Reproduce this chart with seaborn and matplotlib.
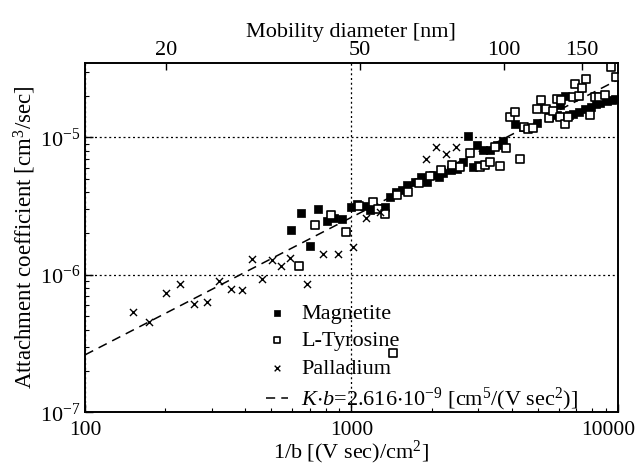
import numpy as np
import pandas as pd
import matplotlib
matplotlib.use("Agg")
import matplotlib.pyplot as plt
import matplotlib.transforms as mtransforms
import seaborn as sns
from matplotlib.ticker import (LogLocator, FixedLocator, FixedFormatter, NullLocator,
                               NullFormatter, FuncFormatter)

# ---------------- data ----------------
magnetite_x = [593.5, 645.3, 751.6, 699.4, 808, 863, 925, 993, 1050, 1116, 1175, 1252,
               1338, 1397, 1472, 1545, 1623, 1734, 1822, 1929, 2031, 2139, 2214, 2360,
               2486, 2618, 2736, 2870, 2955, 2997, 3129, 3316, 3513, 3720, 4133, 4421,
               4977, 5522, 5902, 6057, 6314, 6564, 6813, 7155, 7539, 7907, 8255, 8617,
               9094, 9495, 9771]
magnetite_y = [2.12e-6, 2.83e-6, 3.01e-6, 1.62e-6, 2.47e-6, 2.60e-6, 2.54e-6, 3.13e-6,
               3.28e-6, 3.14e-6, 2.96e-6, 3.05e-6, 3.10e-6, 3.70e-6, 4.02e-6, 4.14e-6,
               4.50e-6, 4.75e-6, 5.12e-6, 4.75e-6, 5.32e-6, 5.17e-6, 5.47e-6, 5.78e-6,
               5.85e-6, 6.65e-6, 1.02e-5, 6.06e-6, 8.79e-6, 6.29e-6, 8.08e-6, 8.15e-6,
               8.79e-6, 9.32e-6, 1.253e-5, 1.182e-5, 1.27e-5, 1.393e-5, 1.453e-5, 1.718e-5,
               2.004e-5, 1.453e-5, 1.472e-5, 1.535e-5, 1.593e-5, 1.661e-5, 1.732e-5,
               1.776e-5, 1.827e-5, 1.852e-5, 1.899e-5]

tyrosine_x = [634.4, 732.5, 838.7, 952.4, 1071, 1203, 1263, 1338, 1488, 1637, 1800, 1974,
              2180, 2382, 2569, 2797, 3041, 3175, 3316, 3615, 3462, 3807, 1430, 4297,
              3953, 4098, 4448, 4617, 4796, 4964, 5138, 5381, 5536, 5716, 5902, 6109,
              6073, 6342, 6524, 6813, 6914, 7138, 7325, 7603, 7894, 8220, 8529, 8960,
              9462, 9829]
tyrosine_y = [1.159e-6, 2.30e-6, 2.72e-6, 2.04e-6, 3.17e-6, 3.41e-6, 3.00e-6, 2.77e-6,
              3.80e-6, 4.02e-6, 4.67e-6, 5.19e-6, 5.75e-6, 6.32e-6, 6.06e-6, 7.65e-6,
              6.11e-6, 6.29e-6, 6.65e-6, 6.18e-6, 8.54e-6, 8.32e-6, 2.71e-7, 6.92e-6,
              1.405e-5, 1.515e-5, 1.182e-5, 1.149e-5, 1.178e-5, 1.606e-5, 1.858e-5,
              1.606e-5, 1.374e-5, 1.546e-5, 1.905e-5, 1.867e-5, 1.405e-5, 1.253e-5,
              1.412e-5, 1.954e-5, 2.449e-5, 2.004e-5, 2.29e-5, 2.632e-5, 1.453e-5,
              1.974e-5, 1.96e-5, 2.04e-5, 3.26e-5, 2.76e-5]

palladium_x = [151.8, 174.3, 200.9, 227.3, 256.6, 286.3, 318.5, 352.4, 387.6, 424.8,
               463.1, 502.3, 542.9, 588.5, 680, 780.5, 893.4, 1012, 1135, 1276, 1901,
               2084, 2273, 2477]
palladium_y = [5.39e-7, 4.52e-7, 7.41e-7, 8.53e-7, 6.10e-7, 6.37e-7, 9.06e-7, 7.88e-7,
               7.75e-7, 1.296e-6, 9.27e-7, 1.281e-6, 1.159e-6, 1.318e-6, 8.53e-7, 1.417e-6,
               1.417e-6, 1.602e-6, 2.60e-6, 2.86e-6, 6.98e-6, 8.46e-6, 7.62e-6, 8.46e-6]

K_b = 2.616e-9                      # cm^5/(V sec^2)
fit_inv_b = [100, 10000]
fit_y = [K_b * v for v in fit_inv_b]

top_tick_labels = ["20", "50", "100", "150"]          # mobility diameter [nm]
top_tick_inv_b = [201, 1078, 3750, 7330]              # corresponding 1/b

# ---------------- style ----------------
sns.set_style("ticks")
plt.rcParams.update({
    "font.family": ["Liberation Serif", "DejaVu Serif"],
    "mathtext.fontset": "custom",
    "mathtext.rm": "Liberation Serif",
    "mathtext.it": "Liberation Serif:italic",
    "mathtext.default": "regular",
    "font.size": 16,
    "axes.linewidth": 1.2,
    "axes.edgecolor": "black",
    "xtick.color": "black",
    "ytick.color": "black",
    "text.color": "black",
    "axes.labelcolor": "black",
})

fig = plt.figure(figsize=(6.42, 4.65), dpi=100)
ax = fig.add_axes([85 / 642, 1 - 412.3 / 465, (617.7 - 85) / 642, (412.3 - 62.7) / 465])
ax.set_xscale("log")
ax.set_yscale("log")

ax.grid(True, which="major", linestyle=(0, (1.6, 2.2)), color="black", linewidth=0.9)
ax.set_axisbelow(True)

sns.lineplot(x=fit_inv_b, y=fit_y, ax=ax, color="black", linewidth=1.1,
             linestyle=(0, (6, 4)),
             label=r"$\mathit{K}{\cdot}\mathit{b}$=2.616$\cdot$10$^{-9}$ [cm$^5$/(V sec$^2$)]",
             zorder=2)
sns.scatterplot(x=magnetite_x, y=magnetite_y, ax=ax, marker="s", s=32,
                color="black", edgecolor="black", linewidth=0.5, label="Magnetite", zorder=3)
sns.scatterplot(x=tyrosine_x, y=tyrosine_y, ax=ax, marker="s", s=28,
                facecolor="white", edgecolor="black", linewidth=1.2, label="L-Tyrosine", zorder=3)
sns.scatterplot(x=palladium_x, y=palladium_y, ax=ax, marker="x", s=26,
                color="black", linewidth=1.0, label="Palladium", zorder=3)

ax.set_xlim(100, 10000)
ax.set_ylim(1e-7, 3.487e-5)

ax.xaxis.set_major_locator(LogLocator(base=10, numticks=10))
ax.yaxis.set_major_locator(LogLocator(base=10, numticks=10))
ax.xaxis.set_minor_locator(LogLocator(base=10, subs=np.arange(2, 10), numticks=20))
ax.yaxis.set_minor_locator(LogLocator(base=10, subs=np.arange(2, 10), numticks=20))
ax.xaxis.set_minor_formatter(NullFormatter())
ax.yaxis.set_minor_formatter(NullFormatter())
ax.xaxis.set_major_formatter(FuncFormatter(lambda v, p: "%d" % round(v)))
ax.tick_params(which="both", direction="in", top=False, right=False, labelsize=16)
ax.tick_params(axis="x", labelsize=15.5)
ax.tick_params(which="major", length=6, width=1)
ax.tick_params(which="minor", length=3, width=0.8)
ax.tick_params(axis="x", pad=6)
ax.tick_params(axis="y", pad=3)

ax.set_xlabel("1/b [(V sec)/cm$^2$]", fontsize=16, labelpad=-0.5)
ax.set_ylabel("Attachment coefficient [cm$^3$/sec]", fontsize=16.5, labelpad=2)

# top axis: mobility diameter
ax2 = ax.twiny()
ax2.set_xscale("log")
ax2.set_xlim(ax.get_xlim())
ax2.xaxis.set_major_locator(FixedLocator(top_tick_inv_b))
ax2.xaxis.set_major_formatter(FixedFormatter(top_tick_labels))
ax2.xaxis.set_minor_locator(NullLocator())
ax2.tick_params(axis="x", which="major", direction="in", length=5, width=1, labelsize=16, pad=2)
ax2.set_xlabel("Mobility diameter [nm]", fontsize=16, labelpad=3)
for s in ax2.spines.values():
    s.set_linewidth(1.2)

# legend
handles, labels = ax.get_legend_handles_labels()
order = [labels.index(n) for n in ["Magnetite", "L-Tyrosine", "Palladium"]] + [0]
leg = ax.legend([handles[i] for i in order], [labels[i] for i in order],
                loc="lower left", bbox_to_anchor=(0.335, -0.009), frameon=False,
                fontsize=16, handlelength=1.0, handletextpad=0.6, labelspacing=0.32,
                borderpad=0.1, borderaxespad=0.0, markerscale=0.8)

# keep the rightmost bottom tick label inside the figure (as in the reference)
fig.canvas.draw()
for lbl in ax.get_xticklabels():
    if lbl.get_text() == "10000":
        lbl.set_transform(lbl.get_transform() +
                          mtransforms.ScaledTranslation(-9 / 100, 0, fig.dpi_scale_trans))

fig.savefig("out.png", dpi=100)
